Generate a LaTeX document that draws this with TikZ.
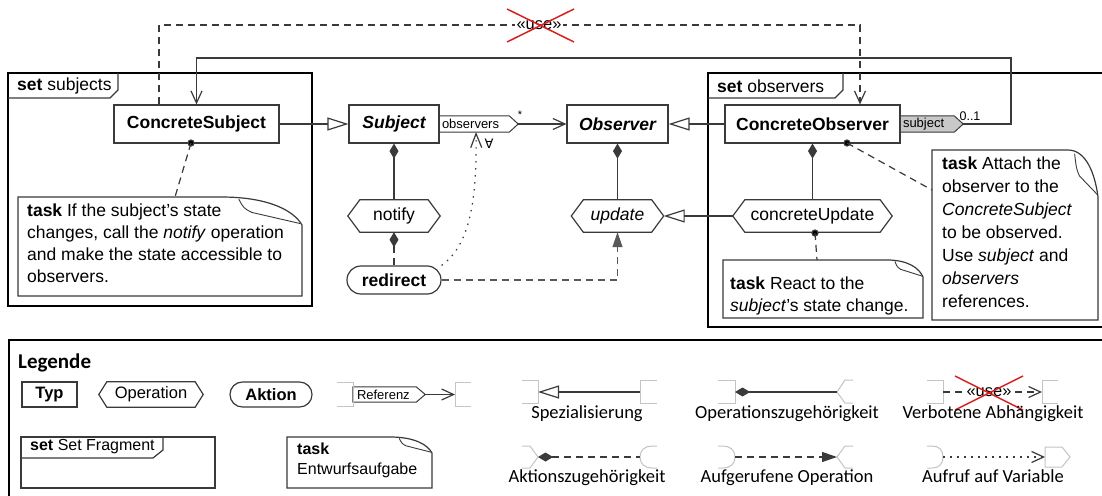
\documentclass[tikz,border=0pt]{standalone}
\usepackage{fontspec}
\setmainfont{Liberation Sans}
\newfontfamily\calibri{Carlito}
\newfontfamily\dejavu{DejaVu Sans}
\usetikzlibrary{arrows.meta,backgrounds}
\definecolor{ln}{HTML}{3A3A3A}
\definecolor{stub}{HTML}{C4C4C4}
\definecolor{refgray}{HTML}{C8C8C8}
\definecolor{xred}{HTML}{D82020}
\tikzset{
  ln/.style={draw=ln, line width=1.2pt},
  frm/.style={draw=black, line width=2pt},
  box/.style={draw=ln, line width=1.2pt, fill=white, inner sep=0pt, font=\fontsize{17.5}{21}\selectfont\bfseries},
  optext/.style={inner sep=0pt, font=\fontsize{17.5}{21}\selectfont},
  reftext/.style={inner ysep=0pt, inner xsep=3pt, align=left, font=\fontsize{13}{15}\selectfont},
  dsh/.style={dash pattern=on 7pt off 5pt},
  dotln/.style={dash pattern=on 1.5pt off 5.5pt},
  gen/.style={-{Triangle[open,length=21pt,width=13pt]}},
  comp/.style={{Diamond[length=15pt,width=9pt]}-},
  assoc/.style={-{Straight Barb[length=12pt,width=11pt]}},
  call/.style={-{Triangle[length=15pt,width=10pt]}},
  notetext/.style={inner sep=0pt, anchor=north west, align=left, font=\fontsize{17.5}{22}\selectfont},
  stubln/.style={draw=stub, line width=1pt},
  leglabel/.style={inner sep=0pt, anchor=base, font=\calibri\fontsize{18.5}{22}\selectfont},
  small/.style={inner sep=0pt, font=\fontsize{11}{13}\selectfont},
}
\newcommand{\hexshape}[2]{%
  \draw[ln] (#1.west) -- ([xshift=#2pt]#1.north west) -- ([xshift=-#2pt]#1.north east) -- (#1.east) -- ([xshift=-#2pt]#1.south east) -- ([xshift=#2pt]#1.south west) -- cycle;}
\newcommand{\refshape}[2]{%
  \begin{scope}[on background layer]
  \draw[ln, line width=1pt, fill=#2] (#1.north west) -- ([xshift=-9pt]#1.north east) -- (#1.east) -- ([xshift=-9pt]#1.south east) -- (#1.south west) -- cycle;
  \end{scope}}
\newcommand{\notebox}[6]{%
  \draw[ln] (#1,#2) -- ({#3-#5},#2) .. controls ({#3-0.4*#5},#2) and ({#3-0.1*#5},{#2+0.5*#6}) .. (#3,{#2+#6}) -- (#3,#4) -- (#1,#4) -- cycle;
  \draw[ln, line width=0.9pt] ({#3-0.78*#5},{#2+0.08*#6}) .. controls ({#3-0.72*#5},{#2+0.4*#6}) .. ({#3-0.62*#5},{#2+0.55*#6}) -- ({#3-0.02*#5},{#2+0.95*#6});}
\begin{document}
\begin{tikzpicture}[x=1pt,y=-1pt]
\begin{scope}[on background layer]
\path[fill=white] (0,0) rectangle (1102,495);
\end{scope}
\useasboundingbox (0,0) rectangle (1102,495);

% ---------- fragments ----------
\draw[frm] (8,73) rectangle (312,306);
\draw[ln] (8,98) -- (110,98) -- (118,90) -- (118,73);
\node[anchor=west, inner sep=0pt, font=\fontsize{17.5}{21}\selectfont] (setsub) at (17,86) {\textbf{set} subjects};

\draw[frm] (708,73) rectangle (1114,327);
\draw[ln] (708,98) -- (835,98) -- (843,90) -- (843,73);
\node[anchor=west, inner sep=0pt, font=\fontsize{17.5}{21}\selectfont] (setobs) at (717,86) {\textbf{set} observers};

% ---------- types ----------
\node[box, minimum width=165pt, minimum height=38pt] (csubj) at (196.5,124) {ConcreteSubject};
\node[box, minimum width=90pt, minimum height=38pt, font=\fontsize{17.5}{21}\selectfont\bfseries\itshape] (subj) at (394,124) {Subject};
\node[box, minimum width=101pt, minimum height=38pt, font=\fontsize{17.5}{21}\selectfont\bfseries\itshape] (obs) at (617.5,124) {Observer};
\node[box, minimum width=175pt, minimum height=38pt] (cobs) at (812.5,124) {ConcreteObserver};

% references
\node[reftext, minimum width=79pt, text width=73pt, minimum height=16pt] (obsref) at (478.5,124) {observers};
\refshape{obsref}{white}
\node[reftext, minimum width=63pt, text width=57pt, minimum height=16pt] (subjref) at (931.5,124) {subject};
\refshape{subjref}{refgray}
\node[small] (star) at (520,115) {*};
\node[small, font=\fontsize{12.5}{14}\selectfont] (mult) at (970,116) {0..1};

% operations
\node[optext, minimum width=92pt, minimum height=32pt] (notify) at (394,216) {notify};
\hexshape{notify}{12}
\node[optext, minimum width=92pt, minimum height=32pt, font=\fontsize{17.5}{21}\selectfont\itshape] (update) at (617.5,216) {update};
\hexshape{update}{12}
\node[optext, minimum width=159pt, minimum height=32pt] (cupdate) at (812.5,216) {concreteUpdate};
\hexshape{cupdate}{12}

% action
\node[box, rounded corners=13.9pt, minimum width=94pt, minimum height=28pt] (redirect) at (394,280) {redirect};

% ---------- connectors ----------
\draw[ln, gen] (csubj.east) -- (subj.west);
\draw[ln, assoc] (obsref.east) -- (obs.west);
\draw[ln, gen] (cobs.west) -- (obs.east);
\draw[ln, comp] (subj.south) -- (notify.north);
\draw[ln, comp] (obs.south) -- (update.north);
\draw[ln, comp] (cobs.south) -- (cupdate.north);
\draw[ln, dsh, comp] (notify.south) -- (redirect.north);
\draw[ln, gen] (cupdate.west) -- (update.east);
\draw[ln, draw=black!65, dsh, call] (redirect.east) -| (update.south);

\coordinate (dt) at (476,132);
\draw[ln, dotln, -{Straight Barb[length=14pt,width=11pt]}] (redirect.north east) .. controls (470,245) and (477,200) .. (dt);
\node[inner sep=0pt, font=\dejavu\fontsize{13}{15}\selectfont] (forall) at (489,144) {∀};

% forbidden use dependency
\coordinate (ua) at (159,25);
\coordinate (ub) at (860,25);
\draw[ln, dsh, assoc] (csubj.north -| ua) -- (ua) -- (ub) -- (cobs.north -| ub);
\node[fill=white, inner sep=2pt, font=\fontsize{16.5}{20}\selectfont] (use1) at (539,25) {«use»};
\draw[xred, line width=1.5pt] (507,9) -- (574,42) (507,42) -- (574,9);

% subject back reference
\coordinate (sa) at (1011,124);
\coordinate (sb) at (1011,58);
\coordinate (sc) at (196.5,58);
\draw[ln, assoc] (subjref.east) -- (sa) -- (sb) -- (sc) -- (csubj.north);

% ---------- notes ----------
\notebox{18}{197}{302}{296}{81}{28}
\node[notetext] (note1) at (27,204) {\textbf{task} If the subject’s state\\changes, call the \textit{notify} operation\\and make the state accessible to\\observers.};
\coordinate (d1) at (191,143);
\coordinate (n1) at (175,197);
\fill[ln] (d1) circle (3pt);
\draw[ln, dsh] (d1) -- (n1);

\notebox{723}{260}{923}{318}{36}{17}
\node[notetext] (note2) at (730,277) {\textbf{task} React to the\\\textit{subject}’s state change.};
\coordinate (d2) at (815,233);
\coordinate (n2) at (817,260);
\fill[ln] (d2) circle (3pt);
\draw[ln, dsh] (d2) -- (n2);

\notebox{932}{150}{1098}{320}{30}{47}
\node[notetext, font=\fontsize{17.5}{23}\selectfont] (note3) at (942,157) {\textbf{task} Attach the\\observer to the\\\textit{ConcreteSubject}\\to be observed.\\Use \textit{subject} and\\\textit{observers}\\references.};
\coordinate (d3) at (847,143);
\coordinate (n3) at (932,190);
\fill[ln] (d3) circle (3pt);
\draw[ln, dsh] (d3) -- (n3);

% ---------- legend ----------
\draw[frm] (9,340) rectangle (1114,505);
\node[anchor=west, inner sep=0pt, font=\calibri\bfseries\fontsize{21}{24}\selectfont] (leg) at (18,363) {Legende};

\node[box, minimum width=55pt, minimum height=25pt, font=\fontsize{16.5}{20}\selectfont\bfseries] (ltyp) at (49.5,394.5) {Typ};
\node[optext, minimum width=104pt, minimum height=25pt, font=\fontsize{16.5}{20}\selectfont] (lop) at (151,394.5) {Operation};
\hexshape{lop}{8}
\node[box, rounded corners=12.4pt, minimum width=82pt, minimum height=25pt, font=\fontsize{16.5}{20}\selectfont\bfseries] (lakt) at (271,394.5) {Aktion};

% Referenz
\draw[stubln] (337,382) -- (353,382) -- (353,406) -- (337,406);
\node[reftext, inner xsep=4pt, minimum width=72pt, text width=64pt, minimum height=15pt] (lref) at (389,394.5) {Referenz};
\refshape{lref}{white}
\coordinate (lrefend) at (455,394.5);
\draw[ln, assoc] (lref.east) -- (lrefend);
\draw[stubln] (471,382) -- (455,382) -- (455,406) -- (471,406);

% Spezialisierung
\draw[stubln] (522,380) -- (538,380) -- (538,403) -- (522,403);
\draw[stubln] (657,380) -- (640,380) -- (640,403) -- (657,403);
\coordinate (sp1) at (538,392);
\coordinate (sp2) at (640,392);
\draw[ln, gen] (sp2) -- (sp1);
\node[leglabel] (lsp) at (587,418) {Spezialisierung};

% Operationszugehoerigkeit
\draw[stubln] (718,380) -- (735,380) -- (735,403) -- (718,403);
\draw[stubln] (853,380) -- (845,380) -- (837,392) -- (845,403) -- (853,403);
\coordinate (oz1) at (735,392);
\coordinate (oz2) at (837,392);
\draw[ln, comp] (oz1) -- (oz2);
\node[leglabel] (loz) at (787,418) {Operationszugehörigkeit};

% Verbotene Abhaengigkeit
\draw[stubln] (927,380) -- (943,380) -- (943,403) -- (927,403);
\draw[stubln] (1058,380) -- (1042,380) -- (1042,403) -- (1058,403);
\coordinate (va1) at (943,392);
\coordinate (va2) at (1042,392);
\draw[ln, dsh, assoc] (va1) -- (va2);
\node[fill=white, inner sep=1pt, font=\fontsize{16.5}{20}\selectfont] (use2) at (989,392) {«use»};
\draw[xred, line width=1.5pt] (955,376) -- (1023,410) (955,410) -- (1023,376);
\node[leglabel] (lva) at (993,418) {Verbotene Abhängigkeit};

% Aktionszugehoerigkeit
\draw[stubln] (522,446) -- (530,446) -- (538,457) -- (530,468) -- (522,468);
\draw[stubln] (657,446) -- (652,446) .. controls (645,446) and (640,450) .. (640,457) .. controls (640,464) and (645,468) .. (652,468) -- (657,468);
\coordinate (az1) at (538,457);
\coordinate (az2) at (640,457);
\draw[ln, dsh, comp] (az1) -- (az2);
\node[leglabel] (laz) at (587,482) {Aktionszugehörigkeit};

% Aufgerufene Operation
\draw[stubln] (718,446) -- (723,446) .. controls (730,446) and (735,450) .. (735,457) .. controls (735,464) and (730,468) .. (723,468) -- (718,468);
\draw[stubln] (853,446) -- (845,446) -- (837,457) -- (845,468) -- (853,468);
\coordinate (ao1) at (735,457);
\coordinate (ao2) at (837,457);
\draw[ln, dsh, call] (ao1) -- (ao2);
\node[leglabel] (lao) at (787,482) {Aufgerufene Operation};

% Aufruf auf Variable
\draw[stubln] (927,446) -- (932,446) .. controls (939,446) and (943,450) .. (943,457) .. controls (943,464) and (939,468) .. (932,468) -- (927,468);
\draw[stubln] (1045,447) -- (1062,447) -- (1070,457) -- (1062,467) -- (1045,467) -- cycle;
\coordinate (av1) at (943,457);
\coordinate (av2) at (1045,457);
\draw[ln, dotln, assoc] (av1) -- (av2);
\node[leglabel] (lav) at (993,482) {Aufruf auf Variable};

% Set fragment
\draw[ln, line width=1.5pt] (21,437) rectangle (215,488);
\draw[ln] (21,458) -- (153,458) -- (163,450) -- (163,437);
\node[anchor=west, inner sep=0pt, font=\fontsize{16}{19}\selectfont] (lset) at (30,447) {\textbf{set} Set Fragment};

% task note
\notebox{287}{437}{432}{488}{42}{16}
\node[notetext, font=\fontsize{16}{20}\selectfont] (ltask) at (297,443) {\textbf{task}\\Entwurfsaufgabe};
\end{tikzpicture}
\end{document}
